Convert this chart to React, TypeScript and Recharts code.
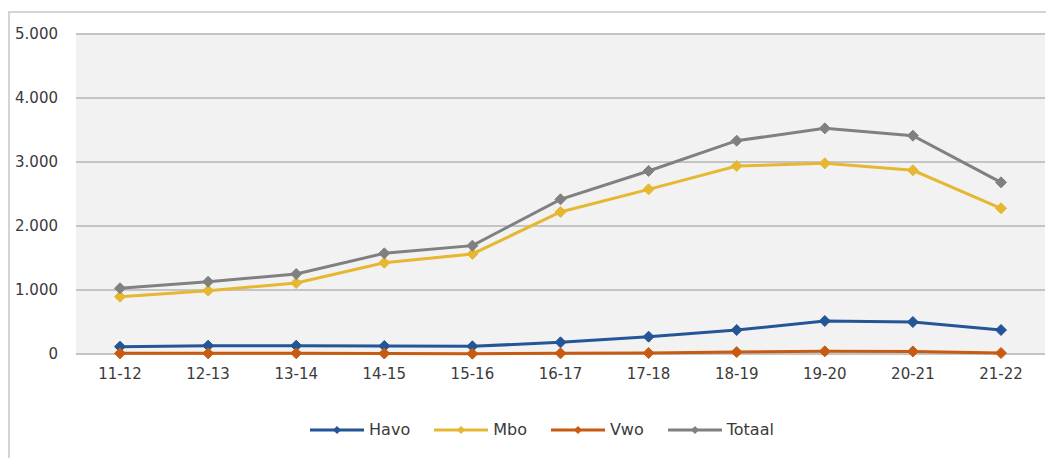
import React from 'react';
import { LineChart, Line, XAxis, YAxis, CartesianGrid, Legend } from 'recharts';

const categories = ['11-12', '12-13', '13-14', '14-15', '15-16', '16-17', '17-18', '18-19', '19-20', '20-21', '21-22'];
const havo = [115, 130, 130, 125, 120, 182, 271, 375, 516, 500, 375];
const mbo = [896, 990, 1109, 1427, 1563, 2219, 2573, 2938, 2979, 2870, 2276];
const vwo = [10, 10, 12, 8, 5, 10, 15, 30, 42, 40, 15];
const totaal = [1027, 1130, 1250, 1573, 1693, 2417, 2860, 3333, 3526, 3411, 2682];
const yTicks = [0, 1000, 2000, 3000, 4000, 5000];

const seriesDefs = [
  { key: 'Havo', values: havo, color: '#235597' },
  { key: 'Mbo', values: mbo, color: '#E6B731' },
  { key: 'Vwo', values: vwo, color: '#C75B12' },
  { key: 'Totaal', values: totaal, color: '#808080' },
];

const data = categories.map((c, i) => {
  const row: any = { name: c };
  seriesDefs.forEach((s) => (row[s.key] = s.values[i]));
  return row;
});

const FONT = "'DejaVu Sans', Verdana, sans-serif";
const TEXT = '#3a3a3a';

const fmt = (v: number) => String(v).replace(/\B(?=(\d{3})+(?!\d))/g, '.');

const makeDot = (color: string, r: number) => (props: any) => {
  const { cx, cy, index } = props;
  if (cx == null || cy == null) return <g key={index} />;
  return (
    <path
      key={index}
      d={`M${cx},${cy - r} L${cx + r},${cy} L${cx},${cy + r} L${cx - r},${cy} Z`}
      fill={color}
      stroke={color}
      strokeWidth={1}
    />
  );
};

const LegendContent = () => (
  <div
    style={{
      display: 'flex',
      justifyContent: 'center',
      alignItems: 'center',
      paddingTop: 26,
      paddingLeft: 31,
      fontFamily: FONT,
      fontSize: 16,
      color: TEXT,
    }}
  >
    {seriesDefs.map((s, i) => (
      <div key={s.key} style={{ display: 'flex', alignItems: 'center', marginLeft: i === 0 ? 0 : 24 }}>
        <svg width={54} height={12} style={{ display: 'block' }}>
          <line x1={0} y1={6} x2={54} y2={6} stroke={s.color} strokeWidth={3} />
          <path d="M27,2 L31,6 L27,10 L23,6 Z" fill={s.color} />
        </svg>
        <span style={{ marginLeft: 5, lineHeight: '20px' }}>{s.key}</span>
      </div>
    ))}
  </div>
);

export default function App() {
  return (
    <div style={{ position: 'relative', width: 1046, height: 450 }}>
      <div
        style={{
          position: 'absolute',
          left: 0,
          top: 3,
          width: 1046,
          height: 447,
          borderTop: '2px solid #d4d4d4',
          borderLeft: '2px solid #d4d4d4',
          boxSizing: 'border-box',
        }}
      />
      <div style={{ position: 'absolute', left: 0, top: 0 }}>
        <LineChart
          width={1046}
          height={450}
          data={data}
          margin={{ top: 26, right: 9, left: 0, bottom: 0 }}
        >
          <CartesianGrid
            vertical={false}
            horizontal={true}
            stroke="#c4c4c4"
            strokeWidth={2}
            fill="#f2f2f2"
          />
          <XAxis
            dataKey="name"
            axisLine={false}
            tickLine={false}
            tickSize={0}
            tickMargin={14}
            height={40}
            padding={{ left: 44, right: 44 }}
            interval={0}
            tick={{ fill: TEXT, fontSize: 15, fontFamily: FONT }}
          />
          <YAxis
            width={68}
            domain={[0, 5000]}
            ticks={yTicks}
            axisLine={false}
            tickLine={false}
            tickSize={0}
            tickMargin={18}
            tickFormatter={fmt}
            tick={{ fill: TEXT, fontSize: 15, fontFamily: FONT }}
          />
          <Legend verticalAlign="bottom" height={64} content={<LegendContent />} />
          {seriesDefs.map((s) => (
            <Line
              key={s.key}
              type="linear"
              dataKey={s.key}
              stroke={s.color}
              strokeWidth={3}
              dot={makeDot(s.color, 5.5)}
              activeDot={false}
              isAnimationActive={false}
            />
          ))}
        </LineChart>
      </div>
    </div>
  );
}
